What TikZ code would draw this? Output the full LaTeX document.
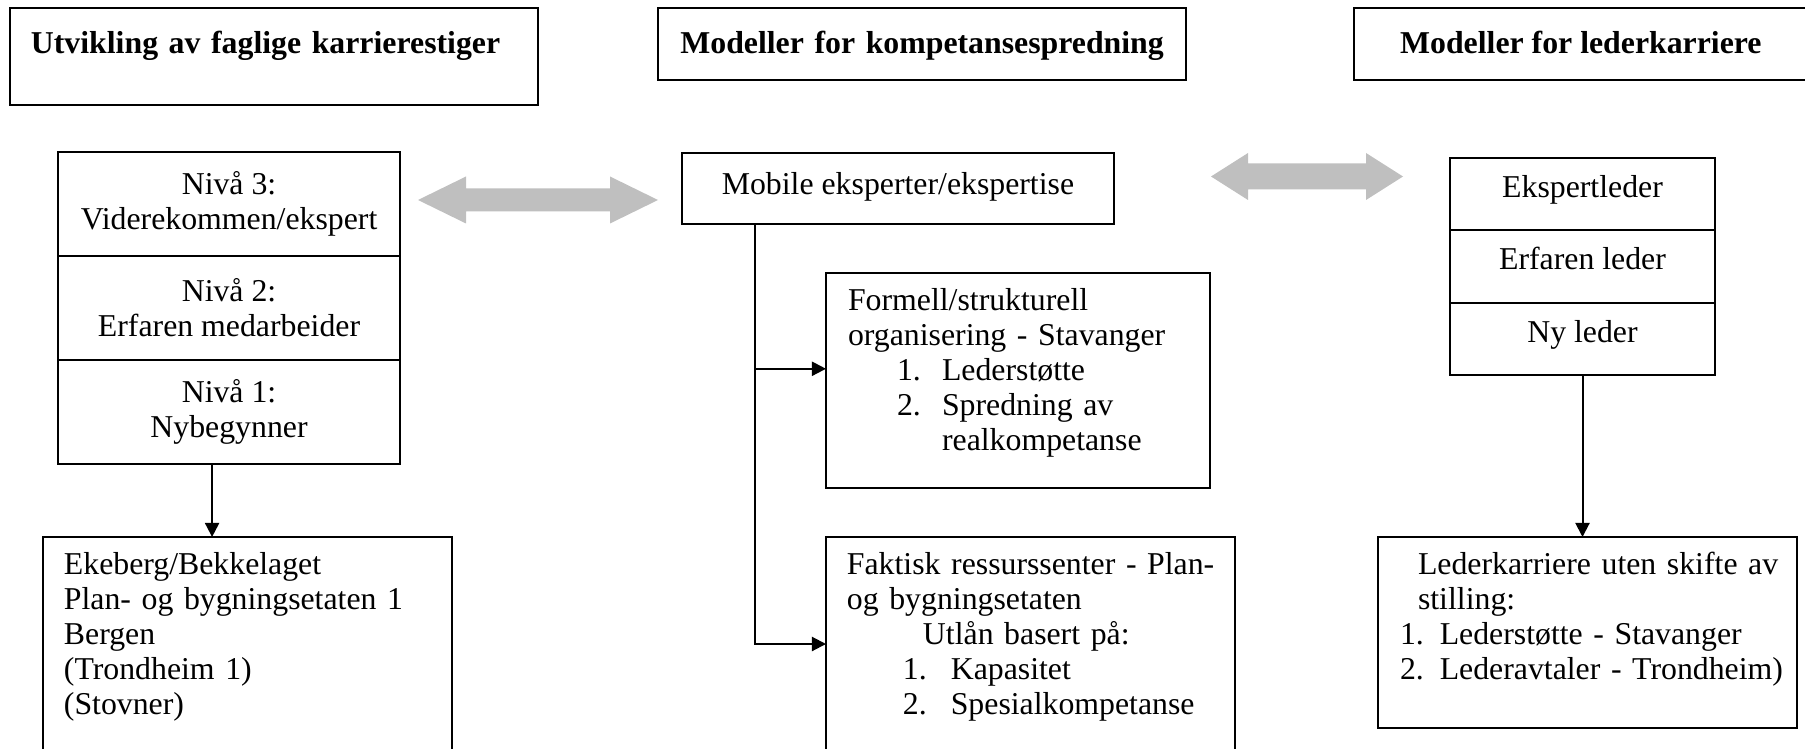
\documentclass[tikz,border=0pt]{standalone}
\usepackage{fontspec}
\setmainfont{Liberation Serif}
\usepackage{tikz}
\usetikzlibrary{arrows.meta,positioning}

% lines that never wrap, first baseline on top
\newcommand{\boxlines}[1]{\begin{tabular}[t]{@{}l@{}}#1\end{tabular}}

\begin{document}
\begin{tikzpicture}[x=0.3774pt, y=-0.3774pt]
    \tikzset{box/.style = {draw, line width=0.75pt, anchor=north west, outer sep=0pt,
        inner ysep=0pt, font=\fontsize{12}{13.2}\selectfont}}
    \tikzset{head/.style = {box, font=\fontsize{12}{13.2}\selectfont\bfseries,
        text height=17pt, text depth=10.2pt}}
    \tikzset{rung/.style = {box, align=center, inner sep=0pt,
        minimum width=129.1pt, minimum height=39.25pt}}
    \tikzset{rank/.style = {box, align=center, inner sep=0pt, text height=8.5pt,
        text depth=6pt, minimum width=100pt, minimum height=27.3pt}}
    \tikzset{list/.style = {box, align=left, text height=14.3pt}}
    \tikzset{link/.style = {-{Triangle[length=5.3pt, width=5.3pt]}, line width=0.75pt}}
    \tikzset{wide/.style = {fill=black!25}}

    \useasboundingbox (0,0) rectangle (1805,749);
    \clip (0,0) rectangle (1805,749);

    % headings
    \node[head, align=left, inner xsep=7.9pt, text width=183.5pt, text depth=19.6pt] (h1) at (10,8)
        {\boxlines{Utvikling av faglige karrierestiger}};
    \node[head, align=center, inner xsep=0pt, text width=199.3pt] (h2) at (658,8)
        {Modeller for kompetansespredning};
    \node[head, inner xsep=17.4pt] (h3) at (1354,8)
        {Modeller for lederkarriere};

    % faglige karrierestiger
    \node[rung] (n3) at (58,152) {Nivå 3:\\Viderekommen/ekspert};
    \node[rung, below=0pt of n3] (n2) {Nivå 2:\\Erfaren medarbeider};
    \node[rung, below=0pt of n2] (n1) {Nivå 1:\\Nybegynner};

    \node[list, inner xsep=7.9pt, text width=138.6pt, text depth=84.9pt] (ek) at (43,537)
        {\boxlines{Ekeberg/Bekkelaget\\
         Plan- og bygningsetaten 1\\
         Bergen\\
         (Trondheim 1)\\
         (Stovner)}};

    % kompetansespredning
    \node[box, align=center, inner sep=0pt, text height=8.5pt, text depth=4pt,
        minimum width=163pt, minimum height=26.8pt] (mob) at (682,153)
        {Mobile eksperter/ekspertise};

    \node[list, inner xsep=8.3pt, text width=128.3pt, text depth=66.8pt] (form) at (826,273)
        {\boxlines{Formell/strukturell\\
         organisering - Stavanger\\
         \hspace*{18.5pt}\makebox[17pt][l]{1.}Lederstøtte\\
         \hspace*{18.5pt}\makebox[17pt][l]{2.}Spredning av\\
         \hspace*{35.5pt}realkompetanse}};

    \node[list, inner xsep=7.9pt, text width=138.6pt, text depth=84.9pt] (fak) at (826,537)
        {\boxlines{Faktisk ressurssenter - Plan-\\
         og bygningsetaten\\
         \hspace*{28.7pt}Utlån basert på:\\
         \hspace*{21.1pt}\makebox[18.1pt][l]{1.}Kapasitet\\
         \hspace*{21.1pt}\makebox[18.1pt][l]{2.}Spesialkompetanse}};

    % lederkarriere
    \node[rank] (s3) at (1450,158) {Ekspertleder};
    \node[rank, below=0pt of s3] (s2) {Erfaren leder};
    \node[rank, below=0pt of s2] (s1) {Ny leder};

    \node[list, inner xsep=8.3pt, text width=141.5pt, text depth=57.7pt] (lk) at (1378,537)
        {\boxlines{\hspace*{6.8pt}Lederkarriere uten skifte av\\
         \hspace*{6.8pt}stilling:\\
         1. Lederstøtte - Stavanger\\
         2. Lederavtaler - Trondheim)}};

    % connectors
    \coordinate (sp) at (755,644);
    \draw[link] ([xshift=-6.4pt]n1.south) -- ([xshift=-6.4pt]n1.south |- ek.north);
    \draw[link] (mob.south -| sp) |- ([yshift=4.4pt]form.west);
    \draw[link] (mob.south -| sp) |- (sp -| fak.west);
    \draw[link] (s1.south) -- (s1.south |- lk.north);

    % wide double arrows
    \fill[wide] (418,200) -- (466,176.5) -- (466,188.5) -- (610,188.5) -- (610,176.5)
        -- (658,200) -- (610,223.5) -- (610,211.5) -- (466,211.5) -- (466,223.5) -- cycle;
    \fill[wide] (1211,176.5) -- (1248,153) -- (1248,163.5) -- (1366,163.5) -- (1366,153)
        -- (1403,176.5) -- (1366,200) -- (1366,189.5) -- (1248,189.5) -- (1248,200) -- cycle;
\end{tikzpicture}
\end{document}
